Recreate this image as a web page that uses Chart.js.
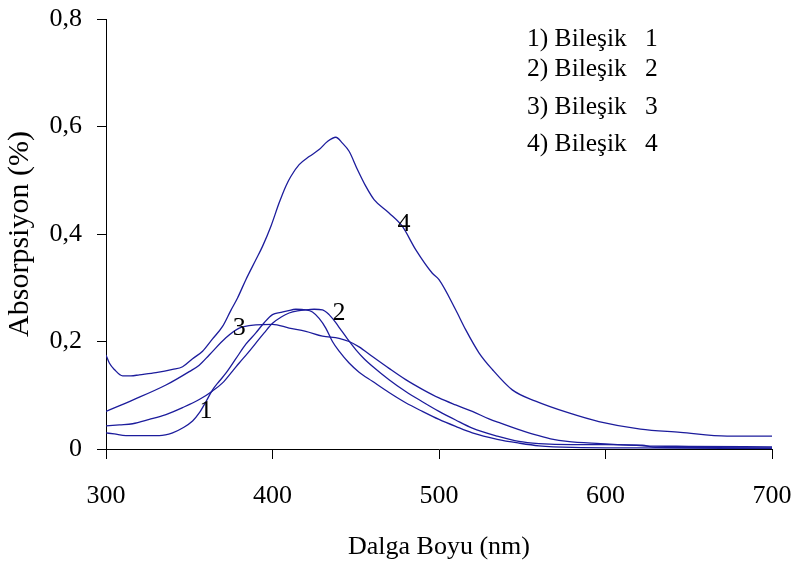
<!DOCTYPE html>
<html><head><meta charset="utf-8">
<script src="https://cdn.jsdelivr.net/npm/chart.js@4/dist/chart.umd.min.js"></script>
<style>html,body{margin:0;padding:0;background:#fff}#wrap{width:793px;height:571px;position:relative}canvas{display:block}</style>
</head><body><div id="wrap"><canvas id="c" width="793" height="571"></canvas></div>
<script>
const xTicks=[300,400,500,600,700];
const yTicks=[0,0.2,0.4,0.6,0.8];
const yTickLabels=['0','0,2','0,4','0,6','0,8'];

const s1x=[300,305,312,332,340,346,352,356,360,364,368,372,378,384,390,395,400,405,409,414,420,424,428,432,436,440,446,452,460,470,480,490,500,510,520,535,548,560,580,620,700];
const s1y=[0.03,0.028,0.025,0.025,0.03,0.039,0.052,0.067,0.088,0.11,0.126,0.141,0.168,0.195,0.216,0.235,0.25,0.254,0.257,0.26,0.259,0.255,0.243,0.225,0.2,0.182,0.16,0.143,0.126,0.105,0.086,0.07,0.055,0.042,0.03,0.018,0.011,0.006,0.003,0.002,0.001];

const s2x=[300,308,316,326,336,346,356,364,370,376,380,385,390,395,400,405,410,415,420,425,430,434,438,441,445,450,455,460,470,480,490,500,510,520,535,548,560,580,600,622,630,700];
const s2y=[0.043,0.045,0.047,0.055,0.064,0.077,0.092,0.108,0.123,0.145,0.16,0.178,0.197,0.216,0.234,0.245,0.253,0.257,0.259,0.26,0.259,0.25,0.235,0.222,0.205,0.185,0.168,0.154,0.129,0.107,0.088,0.07,0.054,0.039,0.024,0.014,0.01,0.008,0.008,0.007,0.003,0.002];

const s3x=[300,316,336,350,356,362,372,380,390,400,410,420,430,440,446,452,460,470,480,490,500,510,520,530,537,548,557,567,577,597,623,650,700];
const s3y=[0.07,0.091,0.119,0.144,0.156,0.175,0.207,0.225,0.231,0.232,0.225,0.219,0.21,0.206,0.2,0.19,0.172,0.15,0.129,0.111,0.095,0.082,0.07,0.056,0.048,0.036,0.027,0.019,0.014,0.01,0.006,0.005,0.004];

const s4x=[300,302,305,310,315,320,330,340,346,352,358,364,370,375,379,384,390,394,399,404,408,411,416,422,428,433,438,442,446,451,456,461,470,478,486,496,500,510,516,524,532,544,558,578,596,621,645,673,700];
const s4y=[0.175,0.16,0.148,0.136,0.136,0.138,0.142,0.148,0.153,0.168,0.182,0.205,0.228,0.258,0.281,0.315,0.352,0.377,0.414,0.458,0.489,0.507,0.529,0.544,0.557,0.572,0.58,0.569,0.554,0.52,0.489,0.464,0.439,0.414,0.371,0.327,0.315,0.259,0.222,0.179,0.148,0.11,0.089,0.067,0.051,0.037,0.031,0.024,0.024];

const curveLabels=['1','2','3','4'];
const curveLabelX=[360,440,380,479];
const curveLabelY=[0.07,0.252,0.224,0.419];

const legendTexts=['1) Bileşik','2) Bileşik','3) Bileşik','4) Bileşik'];
const legendNums=['1','2','3','4'];

const FONT='"Liberation Serif","Times New Roman",serif';
const LINE='#1c1c9c';
const pts=(xs,ys)=>xs.map((x,i)=>({x:x,y:ys[i]}));

const annot={
  id:'annot',
  afterDatasetsDraw(chart){
    const ctx=chart.ctx, xs=chart.scales.x, ys=chart.scales.y;
    ctx.save();
    ctx.fillStyle='#000';
    ctx.font='26px '+FONT;
    ctx.textAlign='center';ctx.textBaseline='middle';
    curveLabels.forEach((t,i)=>{
      ctx.fillText(t,xs.getPixelForValue(curveLabelX[i]),ys.getPixelForValue(curveLabelY[i]));
    });
    ctx.font='25.5px '+FONT;
    ctx.textAlign='left';ctx.textBaseline='alphabetic';
    const base=[46,76,114,151];
    legendTexts.forEach((t,i)=>{
      ctx.fillText(t,527,base[i]);
      ctx.fillText(legendNums[i],645,base[i]);
    });
    ctx.restore();
  }
};

new Chart(document.getElementById('c'),{
  type:'line',
  data:{datasets:[
    {label:'Bileşik 1',data:pts(s1x,s1y)},
    {label:'Bileşik 2',data:pts(s2x,s2y)},
    {label:'Bileşik 3',data:pts(s3x,s3y)},
    {label:'Bileşik 4',data:pts(s4x,s4y)}
  ].map(d=>Object.assign(d,{borderColor:LINE,borderWidth:1.3,pointRadius:0,fill:false,cubicInterpolationMode:'monotone'}))},
  options:{
    responsive:false,animation:false,devicePixelRatio:1,
    layout:{padding:{left:0,right:21,top:19,bottom:0}},
    plugins:{legend:{display:false},tooltip:{enabled:false}},
    scales:{
      x:{type:'linear',min:300,max:700,
        afterBuildTicks:s=>{s.ticks=xTicks.map(v=>({value:v}));},
        afterFit:s=>{s.height=122;s.paddingLeft=0;s.paddingRight=0;},
        ticks:{color:'#000',font:{family:FONT,size:26},padding:22,maxRotation:0},
        grid:{drawOnChartArea:false,drawTicks:true,tickLength:10,color:'#000'},
        border:{display:true,color:'#000',width:1},
        title:{display:true,text:'Dalga Boyu (nm)',color:'#000',font:{family:FONT,size:26},padding:{top:0,bottom:8}}
      },
      y:{type:'linear',min:0,max:0.8,
        afterBuildTicks:s=>{s.ticks=yTicks.map(v=>({value:v}));},
        afterFit:s=>{s.width=106;s.paddingTop=0;s.paddingBottom=0;},
        ticks:{color:'#000',font:{family:FONT,size:26},padding:15,callback:(v)=>{const i=yTicks.findIndex(t=>Math.abs(t-v)<1e-9);return i>=0?yTickLabels[i]:'';}},
        grid:{drawOnChartArea:false,drawTicks:true,tickLength:9,color:'#000'},
        border:{display:true,color:'#000',width:1},
        title:{display:true,text:'Absorpsiyon (%)',color:'#000',font:{family:FONT,size:30},padding:{top:2,bottom:0}}
      }
    }
  },
  plugins:[annot]
});
</script></body></html>
